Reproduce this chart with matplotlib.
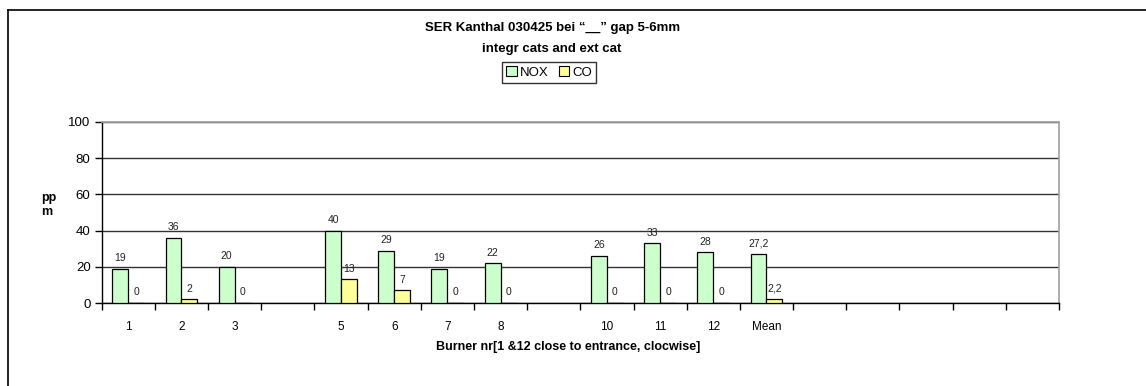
import numpy as np
import matplotlib
matplotlib.use('Agg')
import matplotlib.pyplot as plt
from matplotlib.lines import Line2D
from matplotlib.patches import Patch

plt.rcParams['font.family'] = ['Liberation Sans', 'DejaVu Sans']

# data
categories = ['1', '2', '3', '', '5', '6', '7', '8', '', '10', '11', '12', 'Mean',
              '', '', '', '', '']
nox = [19, 36, 20, np.nan, 40, 29, 19, 22, np.nan, 26, 33, 28, 27.2,
       np.nan, np.nan, np.nan, np.nan, np.nan]
co = [0, 2, 0, np.nan, 13, 7, 0, 0, np.nan, 0, 0, 0, 2.2,
      np.nan, np.nan, np.nan, np.nan, np.nan]

W, H = 1146, 386
fig = plt.figure(figsize=(W / 100, H / 100), dpi=100)

# plot area placed in pixel terms
left, right, top, bottom = 101.7, 1059, 122, 303
ax = fig.add_axes([left / W, 1 - bottom / H, (right - left) / W, (bottom - top) / H])

x = np.arange(len(categories))
bw = 0.3
ax.bar(x - bw / 2, nox, bw, color='#CCFFCC', edgecolor='black', linewidth=0.9, zorder=3)
ax.bar(x + bw / 2, co, bw, color='#FFFF99', edgecolor='black', linewidth=0.9, zorder=3)

def fmt(v):
    return ('%g' % v).replace('.', ',')

for xs, vals in ((x - bw / 2, nox), (x + bw / 2, co)):
    for xi, v in zip(xs, vals):
        if np.isnan(v):
            continue
        ax.annotate(fmt(v), (xi, v), xytext=(0, 4), textcoords='offset points',
                    ha='center', va='bottom', fontsize=7.5, color='#222222', zorder=4)

ax.set_xlim(-0.5, len(categories) - 0.5)
ax.set_ylim(0, 100)
ax.set_yticks([0, 20, 40, 60, 80, 100])
ax.yaxis.grid(True, color='#333333', linewidth=1.0, zorder=0)
ax.set_axisbelow(True)

ax.set_xticks(x)
ax.set_xticklabels(categories, fontsize=8.5)
ax.set_xticks(np.arange(-0.5, len(categories)), minor=True)
ax.tick_params(axis='x', which='major', length=0, pad=13)
ax.tick_params(axis='x', which='minor', length=5, width=1, direction='out')
ax.tick_params(axis='y', length=5, width=1, direction='out', labelsize=9.5, pad=3)

for s in ('top', 'right'):
    ax.spines[s].set_color('#a0a0a0')
    ax.spines[s].set_linewidth(1.2)
for s in ('left', 'bottom'):
    ax.spines[s].set_color('black')
    ax.spines[s].set_linewidth(1.0)

# titles and labels
fig.text(553 / W, 1 - 28 / H, 'SER Kanthal 030425 bei \u201c__\u201d gap 5-6mm',
         ha='center', va='center', fontsize=9.5, fontweight='bold')
fig.text(552 / W, 1 - 49 / H, 'integr cats and ext cat',
         ha='center', va='center', fontsize=9.5, fontweight='bold')
fig.text(41 / W, 1 - 205 / H, 'pp\nm', ha='left', va='center', fontsize=9,
         fontweight='bold', linespacing=1.3)
fig.text(568 / W, 1 - 347 / H, 'Burner nr[1 &12 close to entrance, clocwise]',
         ha='center', va='center', fontsize=9, fontweight='bold')

handles = [Patch(facecolor='#CCFFCC', edgecolor='black', linewidth=0.8),
           Patch(facecolor='#FFFF99', edgecolor='black', linewidth=0.8)]
leg = fig.legend(handles, ['NOX', 'CO'], loc='center', ncol=2,
                 bbox_to_anchor=(549 / W, 1 - 72.5 / H), fontsize=9.5,
                 frameon=True, fancybox=False, handlelength=0.8, handleheight=0.8,
                 handletextpad=0.2, columnspacing=0.8, borderpad=0.3,
                 borderaxespad=0)
leg.get_frame().set_edgecolor('black')
leg.get_frame().set_linewidth(1.0)

# outer chart border (left and top visible)
fig.add_artist(Line2D([8 / W, 8 / W], [0, 1 - 9.5 / H], color='black', linewidth=1.2))
fig.add_artist(Line2D([8 / W, 1], [1 - 9.5 / H, 1 - 9.5 / H], color='black', linewidth=1.2))

fig.savefig('out.png', dpi=100)
